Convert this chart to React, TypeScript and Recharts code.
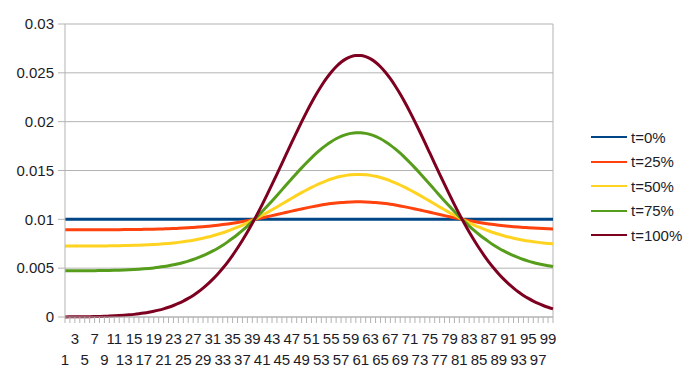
import React from "react";
import { LineChart, Line, XAxis, YAxis, CartesianGrid, ReferenceLine } from "recharts";

const xCategories = [
  1, 2, 3, 4, 5, 6, 7, 8, 9, 10, 11, 12, 13, 14, 15, 16, 17, 18, 19, 20,
  21, 22, 23, 24, 25, 26, 27, 28, 29, 30, 31, 32, 33, 34, 35, 36, 37, 38, 39, 40,
  41, 42, 43, 44, 45, 46, 47, 48, 49, 50, 51, 52, 53, 54, 55, 56, 57, 58, 59, 60,
  61, 62, 63, 64, 65, 66, 67, 68, 69, 70, 71, 72, 73, 74, 75, 76, 77, 78, 79, 80,
  81, 82, 83, 84, 85, 86, 87, 88, 89, 90, 91, 92, 93, 94, 95, 96, 97, 98, 99, 100,
];

const seriesNames = ["t=0%", "t=25%", "t=50%", "t=75%", "t=100%"];
const seriesColors = ["#004586", "#ff420e", "#ffd320", "#579d1c", "#7e0021"];

const t0 = [
  0.01, 0.01, 0.01, 0.01, 0.01, 0.01, 0.01, 0.01, 0.01, 0.01,
  0.01, 0.01, 0.01, 0.01, 0.01, 0.01, 0.01, 0.01, 0.01, 0.01,
  0.01, 0.01, 0.01, 0.01, 0.01, 0.01, 0.01, 0.01, 0.01, 0.01,
  0.01, 0.01, 0.01, 0.01, 0.01, 0.01, 0.01, 0.01, 0.01, 0.01,
  0.01, 0.01, 0.01, 0.01, 0.01, 0.01, 0.01, 0.01, 0.01, 0.01,
  0.01, 0.01, 0.01, 0.01, 0.01, 0.01, 0.01, 0.01, 0.01, 0.01,
  0.01, 0.01, 0.01, 0.01, 0.01, 0.01, 0.01, 0.01, 0.01, 0.01,
  0.01, 0.01, 0.01, 0.01, 0.01, 0.01, 0.01, 0.01, 0.01, 0.01,
  0.01, 0.01, 0.01, 0.01, 0.01, 0.01, 0.01, 0.01, 0.01, 0.01,
  0.01, 0.01, 0.01, 0.01, 0.01, 0.01, 0.01, 0.01, 0.01, 0.01,
];

const t25 = [
  0.008931, 0.008931, 0.008932, 0.008932, 0.008933, 0.008934, 0.008935, 0.008936, 0.008938, 0.00894,
  0.008942, 0.008945, 0.008949, 0.008953, 0.008959, 0.008965, 0.008973, 0.008982, 0.008992, 0.009005,
  0.00902, 0.009036, 0.009056, 0.009078, 0.009104, 0.009134, 0.009167, 0.009204, 0.009246, 0.009293,
  0.009345, 0.009402, 0.009464, 0.009532, 0.009606, 0.009685, 0.009771, 0.009861, 0.009957, 0.010057,
  0.010162, 0.01027, 0.010382, 0.010496, 0.010611, 0.010727, 0.010843, 0.010956, 0.011067, 0.011174,
  0.011276, 0.011372, 0.011461, 0.011541, 0.011611, 0.011671, 0.011721, 0.011758, 0.011783, 0.011796,
  0.011796, 0.011783, 0.011758, 0.011721, 0.011671, 0.011611, 0.011541, 0.011461, 0.011372, 0.011276,
  0.011174, 0.011067, 0.010956, 0.010843, 0.010727, 0.010611, 0.010496, 0.010382, 0.01027, 0.010162,
  0.010057, 0.009957, 0.009861, 0.009771, 0.009685, 0.009606, 0.009532, 0.009464, 0.009402, 0.009345,
  0.009293, 0.009246, 0.009204, 0.009167, 0.009134, 0.009104, 0.009078, 0.009056, 0.009036, 0.00902,
];

const t50 = [
  0.007263, 0.007264, 0.007265, 0.007266, 0.007268, 0.00727, 0.007273, 0.007276, 0.00728, 0.007285,
  0.007292, 0.007299, 0.007309, 0.00732, 0.007334, 0.00735, 0.00737, 0.007393, 0.00742, 0.007452,
  0.007489, 0.007533, 0.007583, 0.00764, 0.007706, 0.007781, 0.007866, 0.007962, 0.00807, 0.008189,
  0.008321, 0.008468, 0.008627, 0.008802, 0.008991, 0.009194, 0.009413, 0.009644, 0.009889, 0.010146,
  0.010414, 0.010692, 0.010978, 0.01127, 0.011565, 0.011862, 0.012158, 0.012449, 0.012733, 0.013007,
  0.013269, 0.013514, 0.01374, 0.013945, 0.014126, 0.01428, 0.014406, 0.014502, 0.014566, 0.014599,
  0.014599, 0.014566, 0.014502, 0.014406, 0.01428, 0.014126, 0.013945, 0.01374, 0.013514, 0.013269,
  0.013007, 0.012733, 0.012449, 0.012158, 0.011862, 0.011565, 0.01127, 0.010978, 0.010692, 0.010414,
  0.010146, 0.009889, 0.009644, 0.009413, 0.009194, 0.008991, 0.008802, 0.008627, 0.008468, 0.008321,
  0.008189, 0.00807, 0.007962, 0.007866, 0.007781, 0.007706, 0.00764, 0.007583, 0.007533, 0.007489,
];

const t75 = [
  0.004725, 0.004727, 0.004729, 0.004732, 0.004735, 0.004739, 0.004744, 0.004751, 0.004759, 0.004769,
  0.004781, 0.004796, 0.004814, 0.004836, 0.004862, 0.004894, 0.004931, 0.004976, 0.005028, 0.00509,
  0.005162, 0.005245, 0.005342, 0.005452, 0.00558, 0.005725, 0.005888, 0.006073, 0.00628, 0.006511,
  0.006765, 0.007047, 0.007355, 0.007691, 0.008056, 0.008448, 0.008868, 0.009314, 0.009787, 0.010281,
  0.010798, 0.011334, 0.011885, 0.012447, 0.013016, 0.013589, 0.014158, 0.01472, 0.015267, 0.015795,
  0.016299, 0.016771, 0.017208, 0.017602, 0.017951, 0.018248, 0.01849, 0.018675, 0.0188, 0.018862,
  0.018862, 0.0188, 0.018675, 0.01849, 0.018248, 0.017951, 0.017602, 0.017208, 0.016771, 0.016299,
  0.015795, 0.015267, 0.01472, 0.014158, 0.013589, 0.013016, 0.012447, 0.011885, 0.011334, 0.010798,
  0.010281, 0.009787, 0.009314, 0.008868, 0.008448, 0.008056, 0.007691, 0.007355, 0.007047, 0.006765,
  0.006511, 0.00628, 0.006073, 0.005888, 0.005725, 0.00558, 0.005452, 0.005342, 0.005245, 0.005162,
];

const t100 = [
  0.00001, 0.000013, 0.000017, 0.000022, 0.000029, 0.000036, 0.000046, 0.000059, 0.000074, 0.000093,
  0.000116, 0.000144, 0.000178, 0.000219, 0.000269, 0.000329, 0.0004, 0.000484, 0.000583, 0.0007,
  0.000837, 0.000995, 0.001178, 0.001387, 0.001628, 0.001903, 0.002213, 0.002563, 0.002955, 0.003392,
  0.003874, 0.004408, 0.00499, 0.005626, 0.006318, 0.00706, 0.007857, 0.008701, 0.009596, 0.010532,
  0.011512, 0.012526, 0.01357, 0.014635, 0.015713, 0.016797, 0.017875, 0.018939, 0.019976, 0.020976,
  0.021929, 0.022824, 0.023651, 0.024398, 0.025058, 0.025621, 0.02608, 0.02643, 0.026666, 0.026785,
  0.026785, 0.026666, 0.02643, 0.02608, 0.025621, 0.025058, 0.024398, 0.023651, 0.022824, 0.021929,
  0.020976, 0.019976, 0.018939, 0.017875, 0.016797, 0.015713, 0.014635, 0.01357, 0.012526, 0.011512,
  0.010532, 0.009596, 0.008701, 0.007857, 0.00706, 0.006318, 0.005626, 0.00499, 0.004408, 0.003874,
  0.003392, 0.002955, 0.002563, 0.002213, 0.001903, 0.001628, 0.001387, 0.001178, 0.000995, 0.000837,
];

const yTicks = [0, 0.005, 0.01, 0.015, 0.02, 0.025, 0.03];
const yTickLabels = ["0", "0.005", "0.01", "0.015", "0.02", "0.025", "0.03"];

const seriesValues = [t0, t25, t50, t75, t100];
const seriesKeys = ["s0", "s1", "s2", "s3", "s4"];

const data = xCategories.map((x, i) => {
  const row: Record<string, number> = { x };
  seriesKeys.forEach((k, s) => {
    row[k] = seriesValues[s][i];
  });
  return row;
});

const FONT = '"Liberation Sans", Arial, sans-serif';
const TEXT = "#1c1c28";
const GRID = "#b3b3b3";

const XTick = (props: any) => {
  const { x, y, payload } = props;
  const v = Number(payload.value);
  if (v % 2 === 0) return <g />;
  const bottomRow = v % 4 === 1;
  return (
    <text
      x={x}
      y={y + (bottomRow ? 40 : 19)}
      textAnchor="middle"
      fontFamily={FONT}
      fontSize={15}
      fill={TEXT}
    >
      {String(v)}
    </text>
  );
};

export default function App() {
  return (
    <div style={{ position: "absolute", left: 0, top: 0, width: 684, height: 377, background: "#fff" }}>
      <LineChart
        width={684}
        height={377}
        data={data}
        margin={{ top: 24, right: 131, left: 0, bottom: 0 }}
      >
        <CartesianGrid stroke={GRID} vertical={false} />
        <XAxis
          dataKey="x"
          type="category"
          interval={0}
          height={60}
          tickSize={6}
          tickMargin={2}
          axisLine={{ stroke: GRID }}
          tickLine={{ stroke: GRID }}
          tick={<XTick />}
        />
        <YAxis
          width={65}
          domain={[0, 0.03]}
          ticks={yTicks}
          interval={0}
          tickSize={7}
          tickMargin={4}
          axisLine={{ stroke: GRID }}
          tickLine={{ stroke: GRID }}
          tickFormatter={(v: number, i: number) => yTickLabels[i]}
          tick={{ fontFamily: FONT, fontSize: 15, fill: TEXT }}
        />
        <ReferenceLine x={100} stroke={GRID} />
        {seriesKeys.map((k, s) => (
          <Line
            key={k}
            dataKey={k}
            name={seriesNames[s]}
            type="monotone"
            stroke={seriesColors[s]}
            strokeWidth={3}
            dot={false}
            activeDot={false}
            isAnimationActive={false}
          />
        ))}
      </LineChart>
      <div style={{ position: "absolute", left: 591, top: 125, fontFamily: FONT, fontSize: 15, color: TEXT }}>
        {seriesNames.map((n, s) => (
          <div key={n} style={{ display: "flex", alignItems: "center", height: 24.5, whiteSpace: "nowrap" }}>
            <div style={{ width: 36, height: 2, background: seriesColors[s], marginRight: 4 }} />
            <span>{n}</span>
          </div>
        ))}
      </div>
    </div>
  );
}
